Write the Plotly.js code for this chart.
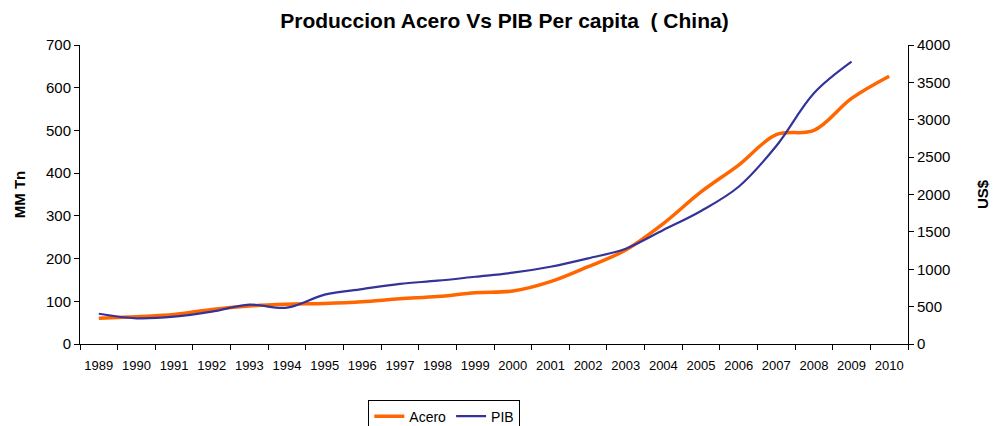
<!DOCTYPE html>
<html>
<head>
<meta charset="utf-8">
<script src="https://cdn.plot.ly/plotly-3.0.1.min.js"></script>
<style>html,body{margin:0;padding:0;background:#fff}#chart{width:995px;height:426px}</style>
</head>
<body>
<div id="chart"></div>
<script>
var years = ["1989","1990","1991","1992","1993","1994","1995","1996","1997","1998","1999","2000","2001","2002","2003","2004","2005","2006","2007","2008","2009","2010"];
var acero = [60, 64, 69, 81, 89, 93, 95, 99, 106, 111, 120, 124, 146, 181, 220, 282, 356, 419, 490, 500, 575, 627];
var pibYears = ["1989","1990","1991","1992","1993","1994","1995","1996","1997","1998","1999","2000","2001","2002","2003","2004","2005","2006","2007","2008","2009"];
var pib = [405, 344, 365, 432, 526, 486, 660, 735, 805, 847, 900, 954, 1034, 1146, 1275, 1525, 1780, 2104, 2649, 3355, 3777];

var font = "Liberation Sans, Arial, sans-serif";
var traces = [
  {x: years, y: acero, name: "Acero", type: "scatter", mode: "lines",
   line: {color: "#FF6600", width: 3.5, shape: "spline", smoothing: 1}, yaxis: "y"},
  {x: pibYears, y: pib, name: "PIB", type: "scatter", mode: "lines",
   line: {color: "#333399", width: 2.2, shape: "spline", smoothing: 1}, yaxis: "y2"}
];
var layout = {
  width: 995, height: 426,
  margin: {l: 80, r: 87, t: 45, b: 82, autoexpand: false},
  paper_bgcolor: "#ffffff", plot_bgcolor: "#ffffff",
  font: {family: font, color: "#000"},
  title: {text: "<b>Produccion Acero Vs PIB Per capita  ( China)</b>",
          font: {size: 21, family: font, color: "#000"},
          x: 0.507, xref: "container", xanchor: "center", y: 0.952, yref: "container", yanchor: "middle"},
  xaxis: {type: "category", range: [-0.5, 21.5], tickson: "boundaries",
          ticks: "outside", ticklen: 5, tickcolor: "#000", showline: true, linecolor: "#000", linewidth: 1,
          showgrid: false, zeroline: false, tickfont: {size: 13, family: font, color: "#000"},
          tickangle: 0, ticklabelstandoff: 9},
  yaxis: {range: [0, 700], dtick: 100, ticks: "outside", ticklen: 5, tickcolor: "#000",
          showline: true, linecolor: "#000", linewidth: 1, showgrid: false, zeroline: false,
          tickfont: {size: 15, family: font, color: "#000"},
          title: {text: "<b>MM Tn</b>", font: {size: 15, family: font, color: "#000"}, standoff: 16}},
  yaxis2: {range: [0, 4000], dtick: 500, overlaying: "y", side: "right", ticks: "outside", ticklen: 5,
           tickcolor: "#000", showline: true, linecolor: "#000", linewidth: 1, showgrid: false, zeroline: false,
           tickfont: {size: 15, family: font, color: "#000"},
           title: {text: "<b>US$</b>", font: {size: 15, family: font, color: "#000"}, standoff: 28}},
  showlegend: true,
  legend: {orientation: "h", x: 0.44, xanchor: "center", xref: "paper", y: 0.062, yref: "container", yanchor: "top",
           bordercolor: "#000", borderwidth: 1, bgcolor: "#fff",
           font: {size: 14, family: font, color: "#000"}, itemwidth: 30, tracegroupgap: 0}
};
Plotly.newPlot("chart", traces, layout, {displayModeBar: false, staticPlot: true});
</script>
</body>
</html>
